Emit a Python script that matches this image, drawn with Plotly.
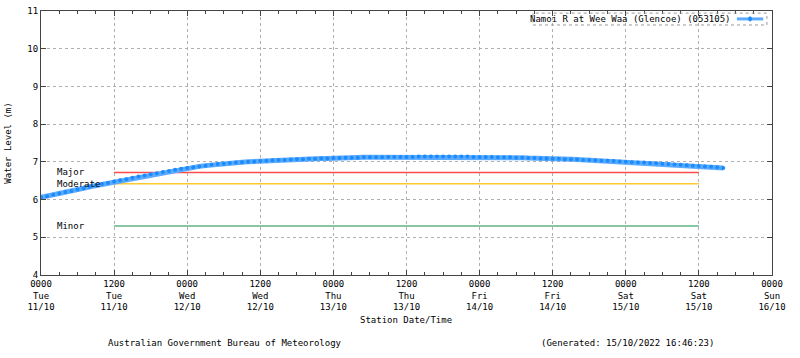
import plotly.graph_objects as go
import pandas as pd

# ---- data ----
start_time = "2022-10-11 00:00"
levels = [
    6.06, 6.09, 6.13, 6.16, 6.20, 6.23, 6.27, 6.30, 6.34, 6.37, 6.41, 6.44, 6.48,
    6.51, 6.54, 6.58, 6.61, 6.64, 6.67, 6.70, 6.73, 6.76, 6.79, 6.82, 6.84,
    6.86, 6.88, 6.90, 6.92, 6.94, 6.95, 6.97, 6.98, 6.99, 7.00, 7.01, 7.02,
    7.03, 7.04, 7.05, 7.05, 7.06, 7.07, 7.07, 7.08, 7.08, 7.09, 7.09, 7.10,
    7.10, 7.11, 7.11, 7.11, 7.12, 7.12, 7.12, 7.12, 7.13, 7.13, 7.13, 7.13,
    7.13, 7.14, 7.14, 7.14, 7.14, 7.14, 7.14, 7.14, 7.14, 7.14, 7.13, 7.13,
    7.13, 7.13, 7.12, 7.12, 7.12, 7.11, 7.11, 7.10, 7.10, 7.09, 7.09, 7.08,
    7.08, 7.07, 7.07, 7.06, 7.05, 7.05, 7.04, 7.03, 7.03, 7.02, 7.01, 7.00,
    6.99, 6.98, 6.98, 6.97, 6.96, 6.95, 6.94, 6.93, 6.92, 6.91, 6.90, 6.89,
    6.88, 6.87, 6.86, 6.84,
]
times = pd.date_range(start_time, periods=len(levels), freq="h")

flood_names = ["Major", "Moderate", "Minor"]
flood_levels = [6.72, 6.42, 5.30]
flood_colors = ["#ff4d4d", "#ffc933", "#5fb486"]
flood_start = "2022-10-11 12:00"
flood_end = "2022-10-15 12:00"

tick_vals = pd.date_range("2022-10-11 00:00", "2022-10-16 00:00", freq="12h")
tick_text = [
    "0000<br>Tue<br>11/10", "1200<br>Tue<br>11/10",
    "0000<br>Wed<br>12/10", "1200<br>Wed<br>12/10",
    "0000<br>Thu<br>13/10", "1200<br>Thu<br>13/10",
    "0000<br>Fri<br>14/10", "1200<br>Fri<br>14/10",
    "0000<br>Sat<br>15/10", "1200<br>Sat<br>15/10",
    "0000<br>Sun<br>16/10",
]
series_name = "Namoi R at Wee Waa (Glencoe) (053105)"

FONT = "DejaVu Sans Mono"
LINE_BLUE = "#5cabff"
MARK_BLUE = "#1a8cff"
fig = go.Figure()

for name, lvl, col in zip(flood_names, flood_levels, flood_colors):
    fig.add_trace(go.Scatter(
        x=[flood_start, flood_end], y=[lvl, lvl], mode="lines",
        line=dict(color=col, width=1.5), showlegend=False, hoverinfo="skip"))
    fig.add_annotation(x=0.019, xref="paper", y=lvl, yref="y", text=name,
                       showarrow=False, xanchor="left", yanchor="middle",
                       font=dict(family=FONT, size=9, color="#000"))

fig.add_trace(go.Scatter(
    x=times, y=levels, mode="lines+markers", name=series_name,
    line=dict(color=LINE_BLUE, width=5),
    marker=dict(color=MARK_BLUE, size=4, symbol="circle"),
    showlegend=False))

# legend box (gnuplot style: text then sample)
fig.add_shape(type="rect", xref="paper", yref="paper", x0=0.673, x1=0.993,
              y0=0.947, y1=0.992, line=dict(color="#999", width=1, dash="dot"))
fig.add_annotation(x=0.945, xref="paper", y=0.97, yref="paper", text=series_name,
                   showarrow=False, xanchor="right", yanchor="middle",
                   font=dict(family=FONT, size=9, color="#000"))
fig.add_shape(type="line", xref="paper", yref="paper", x0=0.952, x1=0.988,
              y0=0.97, y1=0.97, line=dict(color=LINE_BLUE, width=3))
fig.add_shape(type="circle", xref="paper", yref="paper", x0=0.968, x1=0.972,
              y0=0.962, y1=0.978, line=dict(color=MARK_BLUE, width=1),
              fillcolor=MARK_BLUE)

fig.add_annotation(x=0.499, xref="paper", y=-0.197, yref="paper",
                   text="Station Date/Time", showarrow=False, xanchor="center",
                   font=dict(family=FONT, size=9, color="#000"))
fig.add_annotation(x=0.252, xref="paper", y=-0.284, yref="paper",
                   text="Australian Government Bureau of Meteorology", showarrow=False,
                   xanchor="center",
                   font=dict(family=FONT, size=9, color="#000"))
fig.add_annotation(x=0.803, xref="paper", y=-0.284, yref="paper",
                   text="(Generated: 15/10/2022 16:46:23)", showarrow=False,
                   xanchor="center",
                   font=dict(family=FONT, size=9, color="#000"))

fig.update_layout(
    width=800, height=358,
    margin=dict(l=41, r=28, t=11, b=83),
    paper_bgcolor="white", plot_bgcolor="white",
    font=dict(family=FONT, size=9, color="#000"),
    showlegend=False,
    xaxis=dict(
        type="date", range=["2022-10-11 00:00", "2022-10-16 00:00"],
        tickmode="array", tickvals=tick_vals, ticktext=tick_text,
        showgrid=True, gridcolor="#b0b0b0", griddash="dot", gridwidth=1,
        showline=True, linecolor="#444", linewidth=1, mirror="ticks",
        ticks="inside", ticklen=5, tickcolor="#444",
        minor=dict(dtick=3 * 3600000, ticks="inside", ticklen=3, tickcolor="#444",
                   showgrid=False),
        tickfont=dict(family=FONT, size=9), zeroline=False,
        tickangle=0, ticklabeloverflow="allow", automargin=False,
    ),
    yaxis=dict(
        range=[4, 11], dtick=1, tick0=4,
        showgrid=True, gridcolor="#b0b0b0", griddash="dot", gridwidth=1,
        showline=True, linecolor="#444", linewidth=1, mirror="ticks",
        ticks="inside", ticklen=5, tickcolor="#444",
        title=dict(text="Water Level (m)", font=dict(family=FONT, size=9), standoff=14),
        tickfont=dict(family=FONT, size=9), zeroline=False,
        ticklabeloverflow="allow", automargin=False,
    ),
)

# remove the default 8px page margin so the figure fills the window exactly
fig.write_html("out.html", config={"displayModeBar": False},
               post_script="document.body.style.margin='0';")
